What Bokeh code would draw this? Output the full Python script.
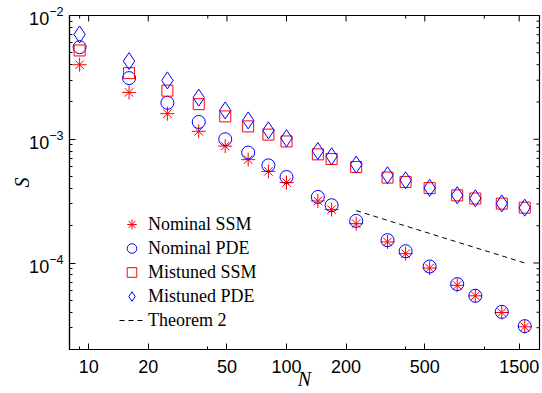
import math
from bokeh.plotting import figure
from bokeh.models import FixedTicker, Legend, LegendItem
from bokeh.embed import file_html
from bokeh.resources import INLINE

N = [9, 16, 25, 36, 49, 64, 81, 100, 144, 169, 225, 324, 400, 529, 729, 900, 1225, 1600]
nominal_ssm = [4.0e-3, 2.39e-3, 1.61e-3, 1.16e-3, 8.8e-4, 6.84e-4, 5.5e-4, 4.47e-4, 3.17e-4, 2.7e-4,
               2.08e-4, 1.48e-4, 1.19e-4, 9.1e-5, 6.6e-5, 5.43e-5, 3.98e-5, 3.05e-5]
nominal_pde = [5.55e-3, 3.12e-3, 1.97e-3, 1.38e-3, 1.0e-3, 7.8e-4, 6.15e-4, 4.95e-4, 3.42e-4, 2.93e-4,
               2.19e-4, 1.53e-4, 1.245e-4, 9.37e-5, 6.75e-5, 5.43e-5, 4.03e-5, 3.09e-5]
mistuned_ssm = [5.22e-3, 3.42e-3, 2.47e-3, 1.92e-3, 1.53e-3, 1.27e-3, 1.09e-3, 9.6e-4, 7.55e-4, 6.92e-4,
                5.97e-4, 4.9e-4, 4.52e-4, 4.03e-4, 3.52e-4, 3.32e-4, 3.02e-4, 2.8e-4]
mistuned_pde = [7.03e-3, 4.28e-3, 2.99e-3, 2.17e-3, 1.71e-3, 1.42e-3, 1.18e-3, 1.02e-3, 8.03e-4, 7.28e-4,
                6.24e-4, 5.12e-4, 4.66e-4, 4.05e-4, 3.53e-4, 3.33e-4, 3.03e-4, 2.8e-4]
theorem_N = [225, 1600]
theorem_S = [2.65e-4, 1.0e-4]

x_ticks = [10, 20, 50, 100, 200, 500, 1500]
x_minor = [9, 40, 400, 1000]
x_labels = ["10", "20", "50", "100", "200", "500", "1500"]
y_major = [1e-4, 1e-3, 1e-2]
y_minor = [m * 10.0 ** e for e in (-5, -4, -3) for m in range(2, 10) if m * 10.0 ** e >= 2e-5]

X_LO, X_HI = 8, 1900
Y_LO, Y_HI = 2e-5, 1e-2

p = figure(width=542, height=393, x_axis_type="log", y_axis_type="log",
           x_range=(X_LO, X_HI), y_range=(Y_LO, Y_HI),
           output_backend="svg", toolbar_location=None,
           min_border_left=69, min_border_right=3, min_border_top=15, min_border_bottom=44)
p.xgrid.visible = False
p.ygrid.visible = False
p.outline_line_color = "black"
p.outline_line_width = 1.2
p.background_fill_color = "white"

p.xaxis.ticker = FixedTicker(ticks=x_ticks, minor_ticks=x_minor)
p.xaxis.major_label_overrides = {t: l for t, l in zip(x_ticks, x_labels)}
p.yaxis.ticker = FixedTicker(ticks=y_major, minor_ticks=y_minor)

for ax in p.xaxis + p.yaxis:
    ax.major_tick_in = 6
    ax.major_tick_out = 0
    ax.minor_tick_in = 3
    ax.minor_tick_out = 0
    ax.axis_line_color = "black"
    ax.axis_line_width = 1.2
    ax.major_tick_line_color = "black"
    ax.minor_tick_line_color = "black"
    ax.major_label_text_font = "Liberation Sans"
    ax.major_label_text_font_size = "18px"
    ax.major_label_text_color = "black"
    ax.axis_label_text_font = "Liberation Serif"
    ax.axis_label_text_font_style = "italic"
    ax.axis_label_text_font_size = "20px"
    ax.axis_label_text_color = "black"

p.xaxis.major_label_standoff = 10
p.xaxis.axis_label = "N"
p.xaxis.axis_label_standoff = -8
p.yaxis.major_label_standoff = 6
p.yaxis.axis_label = "S"
p.yaxis.axis_label_standoff = -7

# inward tick marks on the top and right frame edges (clipped to the frame)
p.scatter(x_ticks, [Y_HI] * len(x_ticks), marker="dash", angle=math.pi / 2, size=12,
          line_color="black", line_width=1)
p.scatter(x_minor, [Y_HI] * len(x_minor), marker="dash", angle=math.pi / 2, size=6,
          line_color="black", line_width=1)
p.scatter([X_HI] * len(y_major), y_major, marker="dash", size=12, line_color="black", line_width=1)
p.scatter([X_HI] * len(y_minor), y_minor, marker="dash", size=6, line_color="black", line_width=1)

red = "#ff0000"
blue = "#0000ff"

r1a = p.scatter(N, nominal_ssm, marker="cross", size=14, line_color=red, line_width=1)
r1b = p.scatter(N, nominal_ssm, marker="x", size=12, line_color=red, line_width=1)
r2 = p.scatter(N, nominal_pde, marker="circle", size=13, line_color=blue, fill_color=None, line_width=1)
r3 = p.scatter(N, mistuned_ssm, marker="square", size=11, line_color=red, fill_color=None, line_width=1)
r4 = p.scatter(N, mistuned_pde, marker="diamond", size=17, line_color=blue, fill_color=None, line_width=1)
r5 = p.line(theorem_N, theorem_S, line_color="black", line_dash="5 4", line_width=1)

legend = Legend(items=[
    LegendItem(label="Nominal SSM", renderers=[r1a, r1b]),
    LegendItem(label="Nominal PDE", renderers=[r2]),
    LegendItem(label="Mistuned SSM", renderers=[r3]),
    LegendItem(label="Mistuned PDE", renderers=[r4]),
    LegendItem(label="Theorem 2", renderers=[r5]),
], location=(50, 17))
legend.border_line_color = None
legend.background_fill_alpha = 0
legend.padding = 0
legend.margin = 0
legend.spacing = 0
legend.glyph_width = 25
legend.glyph_height = 24
legend.label_height = 24
legend.label_standoff = 4
legend.label_text_font = "Liberation Serif"
legend.label_text_font_size = "18px"
legend.label_text_color = "black"
p.add_layout(legend)

open("out.html", "w").write(file_html(p, INLINE))
